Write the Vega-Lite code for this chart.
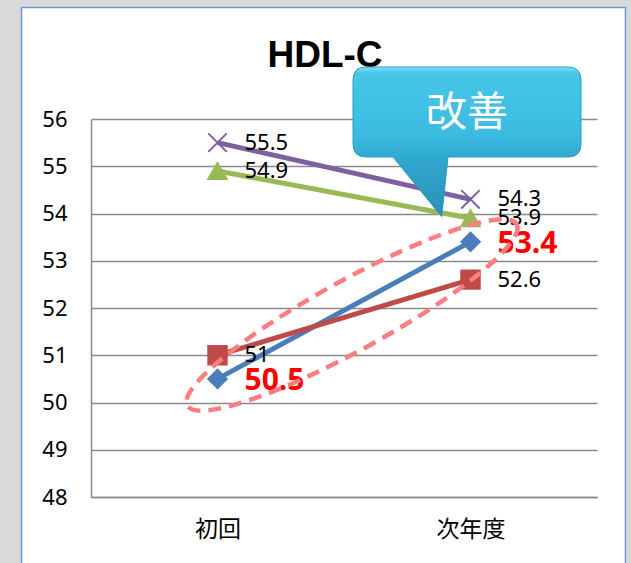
{
  "$schema": "https://vega.github.io/schema/vega-lite/v6.json",
  "width": 506,
  "height": 378,
  "autosize": {"type": "none"},
  "padding": {"left": 91, "top": 119, "right": 34, "bottom": 66},
  "background": "white",
  "config": {"view": {"stroke": null}, "font": "Noto Sans"},
  "resolve": {"axis": {"x": "independent", "y": "independent"}},
  "datasets": {
    "hdl": [
      {"series": "系列1", "period": "初回", "order": 0, "value": 50.5},
      {"series": "系列1", "period": "次年度", "order": 1, "value": 53.4},
      {"series": "系列2", "period": "初回", "order": 0, "value": 51},
      {"series": "系列2", "period": "次年度", "order": 1, "value": 52.6},
      {"series": "系列3", "period": "初回", "order": 0, "value": 54.9},
      {"series": "系列3", "period": "次年度", "order": 1, "value": 53.9},
      {"series": "系列4", "period": "初回", "order": 0, "value": 55.5},
      {"series": "系列4", "period": "次年度", "order": 1, "value": 54.3}
    ]
  },
  "data": {"name": "hdl"},
  "layer": [
    {
      "data": {"values": [{"part": "frame"}]},
      "mark": {"type": "rect", "filled": false, "stroke": "#d9d9d9", "strokeWidth": 30, "clip": false},
      "encoding": {
        "x": {"datum": -0.837, "type": "quantitative", "scale": {"domain": [-0.5, 1.5], "nice": false, "zero": false}, "axis": null},
        "x2": {"datum": 1.6749},
        "y": {"datum": 58.6931, "type": "quantitative", "scale": {"domain": [48, 56], "nice": false, "zero": false}, "axis": null},
        "y2": {"datum": 45.397}
      }
    },
    {
      "data": {"values": [{"part": "border"}]},
      "mark": {"type": "rect", "filled": false, "stroke": "#6497d2", "strokeWidth": 1.5, "clip": false},
      "encoding": {
        "x": {"datum": -0.7747, "type": "quantitative", "axis": null},
        "x2": {"datum": 1.6126},
        "y": {"datum": 58.3598, "type": "quantitative", "axis": null},
        "y2": {"datum": 45.82}
      }
    },
    {
      "mark": {"type": "line", "strokeWidth": 5},
      "encoding": {
        "x": {
          "field": "order", "type": "quantitative",
          "scale": {"domain": [-0.5, 1.5], "nice": false, "zero": false},
          "axis": {
            "values": [0, 1],
            "labelExpr": "datum.value === 0 ? '初回' : '次年度'",
            "title": null, "ticks": false, "grid": false,
            "domain": true, "domainColor": "#8a8a8a", "domainWidth": 1.5,
            "labelFont": "Noto Sans CJK JP", "labelFontSize": 23, "labelColor": "#000000",
            "labelPadding": 21
          }
        },
        "y": {
          "field": "value", "type": "quantitative",
          "scale": {"domain": [48, 56], "nice": false, "zero": false},
          "axis": {
            "values": [48, 49, 50, 51, 52, 53, 54, 55, 56],
            "title": null, "ticks": false,
            "grid": true, "gridColor": "#8a8a8a", "gridWidth": 1.6,
            "domain": true, "domainColor": "#8a8a8a", "domainWidth": 1.5,
            "labelFont": "Noto Sans", "labelFontSize": 22, "labelColor": "#000000",
            "labelPadding": 24
          }
        },
        "color": {
          "field": "series", "type": "nominal", "legend": null,
          "scale": {"domain": ["系列1", "系列2", "系列3", "系列4"], "range": ["#4a7ebb", "#be4b48", "#98b954", "#7d60a0"]}
        },
        "order": {"field": "order"}
      }
    },
    {
      "mark": {"type": "point", "filled": true, "opacity": 1, "strokeWidth": 2},
      "encoding": {
        "x": {"field": "order", "type": "quantitative", "axis": null},
        "y": {"field": "value", "type": "quantitative", "axis": null},
        "color": {"field": "series", "type": "nominal", "legend": null},
        "stroke": {
          "field": "series", "type": "nominal", "legend": null,
          "scale": {"domain": ["系列1", "系列2", "系列3", "系列4"], "range": ["#4a7ebb", "#be4b48", "#98b954", "#7d60a0"]}
        },
        "shape": {
          "field": "series", "type": "nominal", "legend": null,
          "scale": {"domain": ["系列1", "系列2", "系列3", "系列4"], "range": ["diamond", "square", "triangle-up", "M-1,-1L1,1M-1,1L1,-1"]}
        },
        "size": {
          "field": "series", "type": "nominal", "legend": null,
          "scale": {"domain": ["系列1", "系列2", "系列3", "系列4"], "range": [340, 340, 440, 320]}
        }
      }
    },
    {
      "transform": [{"filter": "datum.series !== '系列1'"}],
      "mark": {"type": "text", "align": "left", "baseline": "middle", "dx": 27, "fontSize": 22, "font": "Noto Sans", "color": "#000000"},
      "encoding": {
        "x": {"field": "order", "type": "quantitative", "axis": null},
        "y": {"field": "value", "type": "quantitative", "axis": null},
        "text": {"field": "value", "type": "quantitative"}
      }
    },
    {
      "transform": [{"filter": "datum.series === '系列1'"}],
      "mark": {"type": "text", "align": "left", "baseline": "middle", "dx": 27, "dy": 2, "fontSize": 30, "fontWeight": "bold", "font": "Noto Sans", "color": "#ff0000"},
      "encoding": {
        "x": {"field": "order", "type": "quantitative", "axis": null},
        "y": {"field": "value", "type": "quantitative", "axis": null},
        "text": {"field": "value", "type": "quantitative", "format": ".1f"}
      }
    },
    {
      "data": {"values": [{"note": "ellipse"}]},
      "mark": {
        "type": "point", "filled": false, "opacity": 1, "size": 40000,
        "shape": "M1.6474,-0.9058C1.7405,-0.7364,1.0785,-0.1935,0.1686,0.3067C-0.7413,0.8069,-1.5543,1.0752,-1.6474,0.9058C-1.7405,0.7364,-1.0785,0.1935,-0.1686,-0.3067C0.7413,-0.8069,1.5543,-1.0752,1.6474,-0.9058Z",
        "stroke": "#ff7c80", "strokeWidth": 4.5, "strokeDash": [13, 8], "clip": false
      },
      "encoding": {
        "x": {"datum": 0.5316, "type": "quantitative", "axis": null},
        "y": {"datum": 51.852, "type": "quantitative", "axis": null}
      }
    },
    {
      "data": {"values": [{"title": "HDL-C"}]},
      "mark": {"type": "text", "align": "center", "baseline": "alphabetic", "font": "Liberation Sans", "fontSize": 37, "fontWeight": "bold", "color": "#000000", "clip": false},
      "encoding": {
        "x": {"datum": 0.4249, "type": "quantitative", "axis": null},
        "y": {"datum": 57.1005, "type": "quantitative", "axis": null},
        "text": {"field": "title"}
      }
    },
    {
      "data": {"values": [{"note": "改善"}]},
      "mark": {
        "type": "point", "filled": true, "opacity": 1, "size": 40000, "clip": false,
        "shape": "M-1.01,-0.45L1.01,-0.45Q1.14,-0.45,1.14,-0.32L1.14,0.32Q1.14,0.45,1.01,0.45L-0.19,0.45L-0.253,1.047L-0.74,0.45L-1.01,0.45Q-1.14,0.45,-1.14,0.32L-1.14,-0.32Q-1.14,-0.45,-1.01,-0.45Z",
        "fill": {
          "gradient": "linear", "x1": 0, "y1": 0, "x2": 0, "y2": 1,
          "stops": [
            {"offset": 0, "color": "#7fe3f8"},
            {"offset": 0.04, "color": "#46c7e8"},
            {"offset": 0.45, "color": "#3bbbe0"},
            {"offset": 0.6, "color": "#30a9d1"},
            {"offset": 1, "color": "#2a8fb5"}
          ]
        },
        "stroke": "#2c9cc3", "strokeWidth": 1
      },
      "encoding": {
        "x": {"datum": 0.9862, "type": "quantitative", "axis": null},
        "y": {"datum": 56.148, "type": "quantitative", "axis": null}
      }
    },
    {
      "data": {"values": [{"note": "改善"}]},
      "mark": {"type": "text", "align": "center", "baseline": "middle", "dy": 2, "font": "Noto Sans CJK JP", "fontSize": 41, "color": "#ffffff", "clip": false},
      "encoding": {
        "x": {"datum": 0.9862, "type": "quantitative", "axis": null},
        "y": {"datum": 56.148, "type": "quantitative", "axis": null},
        "text": {"field": "note"}
      }
    }
  ]
}
